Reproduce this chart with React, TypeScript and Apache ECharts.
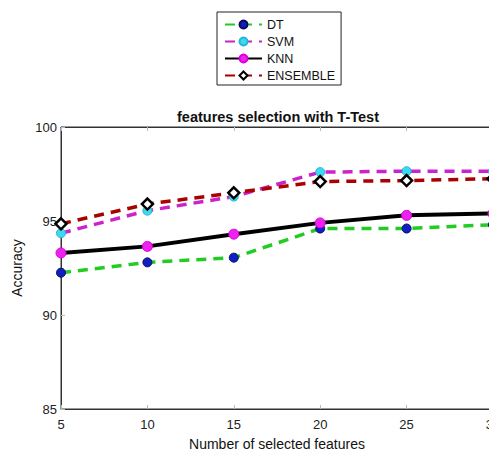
import React, { useEffect, useRef } from "react";
import * as echarts from "echarts";

const xValues = [5, 10, 15, 20, 25, 30];
const dtValues = [92.25, 92.8, 93.05, 94.6, 94.6, 94.8];
const svmValues = [94.35, 95.55, 96.3, 97.6, 97.65, 97.65];
const knnValues = [93.3, 93.65, 94.3, 94.9, 95.3, 95.4];
const ensembleValues = [94.85, 95.9, 96.5, 97.1, 97.15, 97.25];
const seriesNames = ["DT", "SVM", "KNN", "ENSEMBLE"];

const FONT = "Liberation Sans, Arial, sans-serif";

function pairs(vals: number[]) {
  return xValues.map((x, i) => [x, vals[i]]);
}

export default function App() {
  const ref = useRef<HTMLDivElement>(null);
  useEffect(() => {
    if (!ref.current) return;
    const chart = echarts.init(ref.current, undefined, { renderer: "svg" });
    const dash = [10, 7];
    chart.setOption({
      animation: false,
      backgroundColor: "#ffffff",
      title: {
        text: "features selection with T-Test",
        left: 172,
        top: 104,
        textStyle: { fontFamily: FONT, fontSize: 14.5, fontWeight: "bold", color: "#111" },
      },
      legend: {
        orient: "vertical",
        left: 217,
        top: 12,
        data: seriesNames,
        borderColor: "#222",
        borderWidth: 1,
        padding: [6, 6, 3, 7],
        itemWidth: 37,
        itemHeight: 10,
        itemGap: 4,
        textStyle: { fontFamily: FONT, fontSize: 12.5, color: "#111" },
      },
      grid: {
        left: 61,
        right: -4,
        top: 127,
        bottom: 43,
        show: true,
        borderColor: "#333",
        borderWidth: 1,
        outerBoundsMode: "none",
        containLabel: false,
      },
      xAxis: [
        {
          type: "value",
          min: 5,
          max: 30,
          interval: 5,
          name: "Number of selected features",
          nameLocation: "middle",
          nameGap: 28,
          nameTextStyle: { fontFamily: FONT, fontSize: 14, color: "#111" },
          axisLine: { lineStyle: { color: "#333", width: 1 } },
          axisTick: { inside: true, length: 4, lineStyle: { color: "#bbb" } },
          axisLabel: { fontFamily: FONT, fontSize: 13, color: "#222", margin: 9 },
          splitLine: { show: false },
        },
        {
          type: "value",
          position: "top",
          min: 5,
          max: 30,
          interval: 5,
          axisLine: { lineStyle: { color: "#333", width: 1 } },
          axisTick: { inside: true, length: 4, lineStyle: { color: "#bbb" } },
          axisLabel: { show: false },
          splitLine: { show: false },
        },
      ],
      yAxis: {
        type: "value",
        min: 85,
        max: 100,
        interval: 5,
        name: "Accuracy",
        nameLocation: "middle",
        nameGap: 31,
        nameTextStyle: { fontFamily: FONT, fontSize: 14, color: "#111" },
        axisLine: { show: true, lineStyle: { color: "#333", width: 1 } },
        axisTick: { show: true, inside: true, length: 4, lineStyle: { color: "#bbb" } },
        axisLabel: { fontFamily: FONT, fontSize: 13, color: "#222", margin: 4 },
        splitLine: { show: false },
      },
      series: [
        {
          name: "DT",
          type: "line",
          data: pairs(dtValues),
          symbol: "circle",
          symbolSize: 9,
          lineStyle: { color: "#22cc22", width: 3.5, type: dash },
          itemStyle: { color: "#1020c0", borderColor: "#0a0a60", borderWidth: 1 },
          z: 2,
        },
        {
          name: "SVM",
          type: "line",
          data: pairs(svmValues),
          symbol: "circle",
          symbolSize: 9,
          lineStyle: { color: "#cc22cc", width: 3.5, type: dash },
          itemStyle: { color: "#40d8ee", borderColor: "#20b8d8", borderWidth: 1 },
          z: 3,
        },
        {
          name: "KNN",
          type: "line",
          data: pairs(knnValues),
          symbol: "circle",
          symbolSize: 10,
          lineStyle: { color: "#000000", width: 4, type: "solid" },
          itemStyle: { color: "#ee22ee", borderColor: "#dd00dd", borderWidth: 1 },
          z: 4,
        },
        {
          name: "ENSEMBLE",
          type: "line",
          data: pairs(ensembleValues),
          symbol: "diamond",
          symbolSize: 11,
          lineStyle: { color: "#aa0000", width: 3.5, type: dash },
          itemStyle: { color: "#ffffff", borderColor: "#000000", borderWidth: 2.5 },
          z: 5,
        },
      ],
    });
    return () => chart.dispose();
  }, []);
  return (
    <div
      ref={ref}
      style={{ position: "fixed", left: 0, top: 0, width: 489, height: 452 }}
    />
  );
}
